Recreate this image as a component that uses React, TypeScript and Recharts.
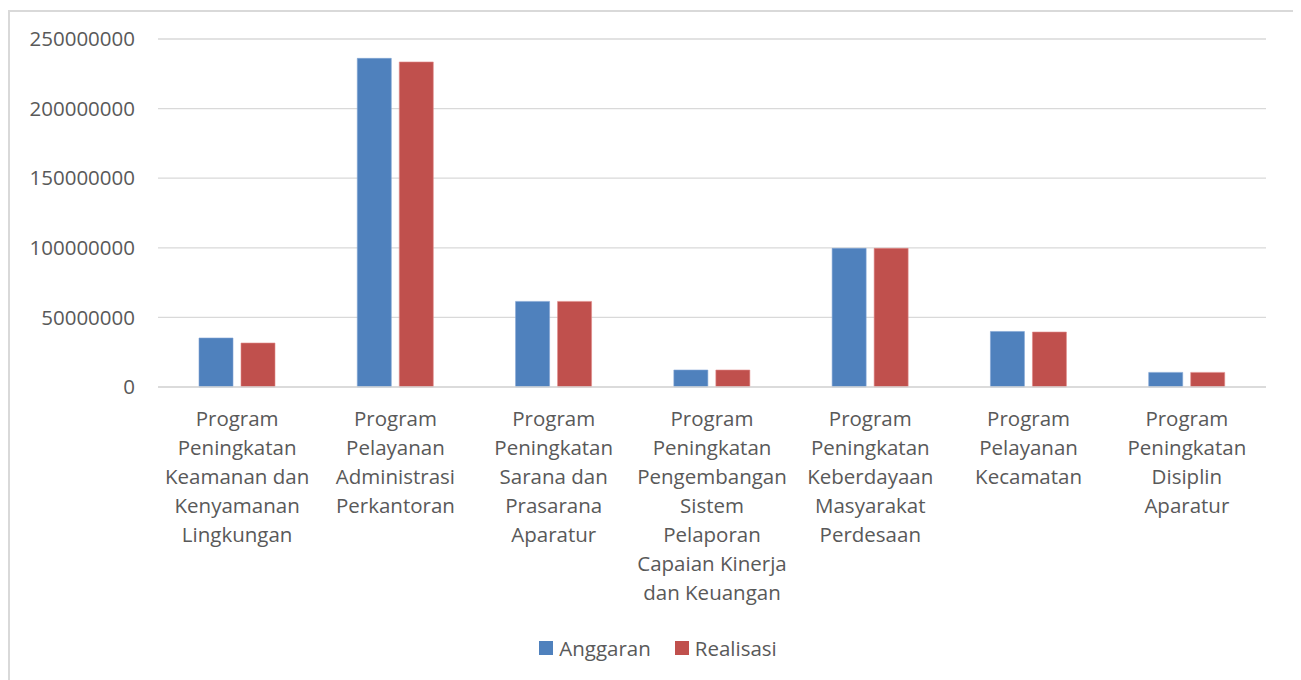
import { Bar, BarChart, CartesianGrid, Legend, XAxis, YAxis } from 'recharts'

const categories = [
  'Program Peningkatan Keamanan dan Kenyamanan Lingkungan',
  'Program Pelayanan Administrasi Perkantoran',
  'Program Peningkatan Sarana dan Prasarana Aparatur',
  'Program Peningkatan Pengembangan Sistem Pelaporan Capaian Kinerja dan Keuangan',
  'Program Peningkatan Keberdayaan Masyarakat Perdesaan',
  'Program Pelayanan Kecamatan',
  'Program Peningkatan Disiplin Aparatur',
]

// tick labels as they wrap in the original
const labelLines = [
  ['Program', 'Peningkatan', 'Keamanan dan', 'Kenyamanan', 'Lingkungan'],
  ['Program', 'Pelayanan', 'Administrasi', 'Perkantoran'],
  ['Program', 'Peningkatan', 'Sarana dan', 'Prasarana', 'Aparatur'],
  ['Program', 'Peningkatan', 'Pengembangan', 'Sistem', 'Pelaporan', 'Capaian Kinerja', 'dan Keuangan'],
  ['Program', 'Peningkatan', 'Keberdayaan', 'Masyarakat', 'Perdesaan'],
  ['Program', 'Pelayanan', 'Kecamatan'],
  ['Program', 'Peningkatan', 'Disiplin', 'Aparatur'],
]

const anggaran = [35200000, 236100000, 61500000, 12200000, 99600000, 39900000, 10500000]
const realisasi = [31600000, 233500000, 61500000, 12200000, 99600000, 39500000, 10500000]

const yTicks = [0, 50000000, 100000000, 150000000, 200000000, 250000000]

const BLUE = '#4F81BD'
const RED = '#C0504D'
const TEXT = '#595959'
const GRID = '#D9D9D9'
const FONT = '"Open Sans", Lato, sans-serif'

const data = categories.map((c, i) => ({
  name: c,
  Anggaran: anggaran[i],
  Realisasi: realisasi[i],
}))

function CategoryTick(props: any) {
  const { x, y, payload } = props
  const lines = labelLines[payload.index] || [String(payload.value)]
  return (
    <text x={x} y={y} textAnchor="middle" fill={TEXT} fontSize={20.5} fontFamily={FONT}>
      {lines.map((l, i) => (
        <tspan key={i} x={x} dy={i === 0 ? 39 : 29}>
          {l}
        </tspan>
      ))}
    </text>
  )
}

function LegendBox() {
  const items = [
    { label: 'Anggaran', color: BLUE },
    { label: 'Realisasi', color: RED },
  ]
  return (
    <div style={{ display: 'flex', justifyContent: 'center', gap: 24, height: 24, alignItems: 'center', fontFamily: FONT, fontSize: 20.5, color: TEXT }}>
      {items.map(it => (
        <div key={it.label} style={{ display: 'flex', alignItems: 'center', gap: 6 }}>
          <span style={{ width: 14, height: 14, background: it.color, display: 'inline-block' }} />
          <span>{it.label}</span>
        </div>
      ))}
    </div>
  )
}

export default function App() {
  return (
    <div style={{ marginTop: 2, width: 1286, height: 690, border: `2px solid ${GRID}`, background: '#fff' }}>
      <BarChart
        width={1286}
        height={668}
        data={data}
        margin={{ top: 27, right: 30, bottom: 20, left: 0 }}
        barSize={34}
        barGap={8}
      >
        <CartesianGrid vertical={false} stroke={GRID} strokeWidth={1.3} />
        <XAxis
          dataKey="name"
          height={249}
          interval={0}
          tickLine={false}
          tickSize={0}
          tickMargin={0}
          axisLine={{ stroke: GRID, strokeWidth: 1.3 }}
          tick={<CategoryTick />}
        />
        <YAxis
          width={148}
          domain={[0, 250000000]}
          ticks={yTicks}
          interval={0}
          axisLine={false}
          tickLine={false}
          tickSize={0}
          tickMargin={23}
          tick={{ fill: TEXT, fontSize: 20.5, fontFamily: FONT }}
        />
        <Legend
          verticalAlign="bottom"
          content={<LegendBox />}
          wrapperStyle={{ left: 10, width: 1276 }}
        />
        <Bar dataKey="Anggaran" fill={BLUE} stroke="#7FA3D4" strokeWidth={0.6} isAnimationActive={false} />
        <Bar dataKey="Realisasi" fill={RED} stroke="#E08A88" strokeWidth={0.6} isAnimationActive={false} />
      </BarChart>
    </div>
  )
}
